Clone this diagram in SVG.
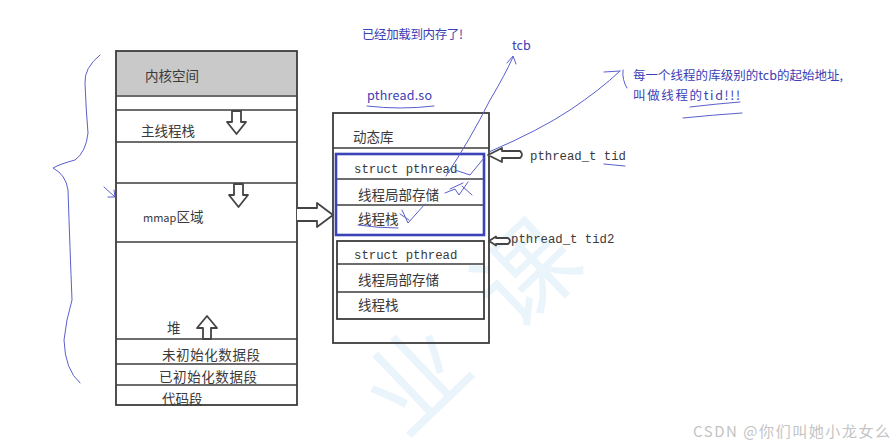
<svg xmlns="http://www.w3.org/2000/svg" width="895" height="447" viewBox="0 0 895 447">
<style>
.box{fill:none;stroke:#3c3c3c;stroke-width:1.8}
.sep{stroke:#3c3c3c;stroke-width:1.6}
.t{font-family:"Noto Sans CJK SC","Noto Sans",sans-serif;font-size:13.5px;fill:#3a3a3a}
.m{font-family:"Liberation Mono","DejaVu Sans Mono",monospace;font-size:12.3px;fill:#3a3a3a}
.harrow{fill:#fff;stroke:#444;stroke-width:1.8;stroke-linejoin:round}
.ink{fill:none;stroke:#5a5fcc;stroke-width:1;stroke-linecap:round;stroke-linejoin:round}
.bt{font-family:"Noto Sans CJK SC","Noto Sans",sans-serif;font-size:12.5px;fill:#3b40b4}
</style>
<rect width="895" height="447" fill="#fff"/>
<text x="0" y="0" transform="translate(405,440) rotate(-43.7)" font-family="Noto Sans CJK SC, sans-serif" font-size="100" fill="#eaf4fb" letter-spacing="52">业课</text>

<g id="memory-layout">
  <rect x="116" y="51" width="181" height="44" fill="#c9c9c9"/>
  <rect class="box" x="116" y="51" width="181" height="354"/>
  <line class="sep" x1="116" y1="96" x2="297" y2="96"/>
  <line class="sep" x1="116" y1="110" x2="297" y2="110"/>
  <line class="sep" x1="116" y1="142" x2="297" y2="142"/>
  <line class="sep" x1="116" y1="183" x2="297" y2="183"/>
  <line class="sep" x1="116" y1="242" x2="297" y2="242"/>
  <line class="sep" x1="116" y1="339" x2="297" y2="339"/>
  <line class="sep" x1="116" y1="364" x2="297" y2="364"/>
  <line class="sep" x1="116" y1="385" x2="297" y2="385"/>
  <text class="t" x="145" y="81">内核空间</text>
  <text class="t" x="141" y="136">主线程栈</text>
  <text class="t" x="143" y="222"><tspan font-size="11">mmap</tspan>区域</text>
  <text class="t" x="167" y="333">堆</text>
  <text class="t" x="162" y="360" textLength="98">未初始化数据段</text>
  <text class="t" x="159" y="382" textLength="98">已初始化数据段</text>
  <text class="t" x="162" y="404">代码段</text>
  <path class="harrow" d="M232,111 L241,111 L241,122 L246,122 L236.5,134 L227,122 L232,122 Z"/>
  <path class="harrow" d="M234,184 L243,184 L243,195 L248,195 L238.5,207 L229,195 L234,195 Z"/>
  <path class="harrow" d="M203,339 L211,339 L211,328 L217,328 L207,316 L197,328 L203,328 Z"/>
</g>

<g id="dynamic-library">
  <rect class="box" x="333" y="113" width="156" height="230"/>
  <line class="sep" x1="333" y1="148" x2="489" y2="148"/>
  <text class="t" x="353" y="142">动态库</text>
</g>

<g id="thread1">
  <line class="sep" x1="336" y1="179" x2="484" y2="179"/>
  <line class="sep" x1="336" y1="205" x2="484" y2="205"/>
  <rect x="336" y="154" width="148" height="81" fill="none" stroke="#3a44b8" stroke-width="2.6"/>
  <text class="m" x="354" y="173">struct pthread</text>
  <text class="t" x="358" y="200">线程局部存储</text>
  <text class="t" x="358" y="224">线程栈</text>
</g>

<g id="thread2">
  <rect class="box" x="337" y="241" width="147" height="78"/>
  <line class="sep" x1="337" y1="264" x2="484" y2="264"/>
  <line class="sep" x1="337" y1="292" x2="484" y2="292"/>
  <text class="m" x="354" y="259">struct pthread</text>
  <text class="t" x="358" y="285">线程局部存储</text>
  <text class="t" x="358" y="310">线程栈</text>
</g>

<g id="tid-label">
  <text class="m" x="530" y="160">pthread_t tid</text>
</g>
<g id="tid2-label">
  <text class="m" x="511" y="243">pthread_t tid2</text>
</g>

<g id="connectors">
  <path class="harrow" d="M297,208 L317,208 L317,203 L333,215 L317,227 L317,221 L297,221"/>
  <path class="harrow" d="M488,155 L502,148 L502,151 L520,151 Q524,154.5 520,158 L502,158 L502,162 Z"/>
  <path class="harrow" d="M489,241 L496,236.5 L496,238 L508,238 Q512,241 508,244 L496,244 L496,245.5 Z"/>
</g>

<g id="annotations">
  <text class="bt" x="362" y="39" textLength="101">已经加载到内存了!</text>
  <text class="bt" x="512" y="50" font-size="13">tcb</text>
  <text class="bt" x="367" y="100" font-size="13.5" textLength="65">pthread.so</text>
  <text class="bt" x="633" y="80" textLength="210">每一个线程的库级别的tcb的起始地址,</text>
  <text class="bt" x="633" y="100" textLength="107">叫做线程的tid!!!</text>
  <path class="ink" d="M367,106 Q400,110 434,106"/>
  <path class="ink" d="M446,176 Q470,140 490,100 Q505,75 513,57"/>
  <path class="ink" d="M507,63 L513,56 L516,64"/>
  <path class="ink" d="M489,152 Q540,130 570,110 Q600,90 620,71"/>
  <path class="ink" d="M604,72 L620,71"/>
  <path class="ink" d="M623,70 Q622,80 627,88"/>
  <path class="ink" d="M690,107 Q715,104 740,102"/>
  <path class="ink" d="M683,118 Q712,115 742,113"/>
  <path class="ink" d="M604,164 Q614,165 625,166"/>
  <path class="ink" d="M358,225 Q378,228 398,228"/>
  <path class="ink" d="M455,170 L470,175 L484,158"/>
  <path class="ink" d="M445,193 L455,189 L459,195 L468,182 M462,186 L472,195 M463,183 L450,189"/>
  <path class="ink" d="M402,210 L408,223 L425,204 M400,214 L409,220"/>
  <path class="ink" d="M100,55 Q84,68 85,83 Q86,110 88,133 Q86,152 75,160 Q60,164 53,168 Q66,175 68,190 Q70,250 72,300 Q66,320 64,340 Q65,370 80,383"/>
  <path class="ink" d="M104,187 L115,197 M108,197 L115,197 L114,190"/>
</g>

<text x="693" y="437" font-family="Noto Sans CJK SC, Noto Sans, sans-serif" font-size="15" fill="#c4c4c4" textLength="197">CSDN @你们叫她小龙女么</text>
</svg>
